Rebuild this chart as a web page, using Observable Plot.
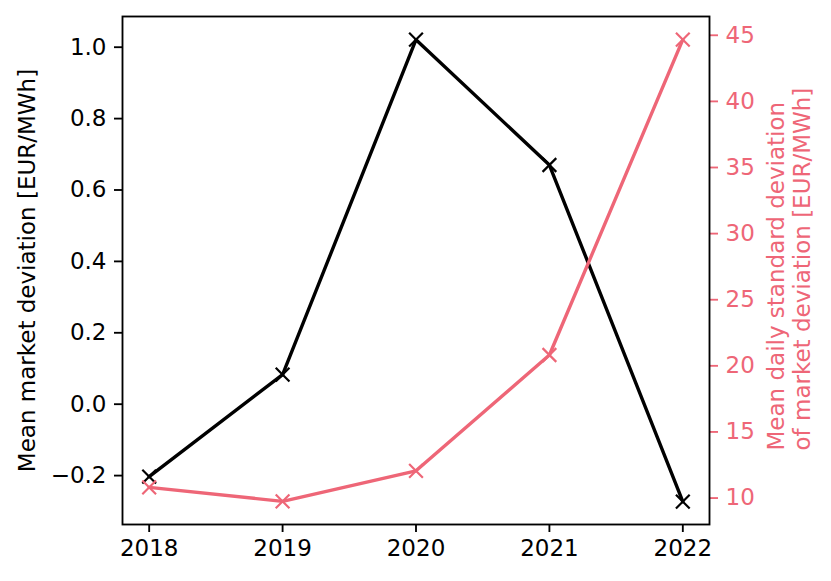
<!DOCTYPE html>
<html><head><meta charset="utf-8">
<script src="https://cdn.jsdelivr.net/npm/d3@7"></script>
<script src="https://cdn.jsdelivr.net/npm/@observablehq/plot@0.6"></script>
<style>body{margin:0;background:#fff} svg{display:block}</style>
</head><body><div id="chart"></div>
<script>
const years = [2018, 2019, 2020, 2021, 2022];
const meanDeviation = [-0.203, 0.083, 1.021, 0.670, -0.273];
const stdDeviation = [10.81, 9.75, 12.06, 20.82, 44.67];
const leftTicks = [-0.2, 0, 0.2, 0.4, 0.6, 0.8, 1.0];
const rightTicks = [10, 15, 20, 25, 30, 35, 40, 45];
const leftLabel = "Mean market deviation [EUR/MWh]";
const rightLabel = "Mean daily standard deviation\nof market deviation [EUR/MWh]";
const leftDomain = [-0.337, 1.086];
const rightDomain = [8.0, 46.42];
const red = "#ee6677";

const toLeft = d3.scaleLinear().domain(rightDomain).range(leftDomain);
const blackData = years.map((year, i) => ({year, value: meanDeviation[i]}));
const redData = years.map((year, i) => ({year, value: toLeft(stdDeviation[i])}));

const chart = Plot.plot({
  width: 831, height: 581,
  marginTop: 16, marginBottom: 57, marginLeft: 122, marginRight: 122,
  style: {fontFamily: "'DejaVu Sans', sans-serif", fontSize: "23px", background: "white", color: "black"},
  x: {domain: [2017.8, 2022.2]},
  y: {domain: leftDomain},
  marks: [
    Plot.axisX(years, {tickSize: 8, tickPadding: 7, strokeWidth: 1.85, tickFormat: d => String(d), label: null}),
    Plot.axisY(leftTicks, {anchor: "left", tickSize: 8, tickPadding: 8, strokeWidth: 1.85, tickFormat: d3.format(".1f"), label: null}),
    Plot.axisY(rightTicks.map(toLeft), {anchor: "right", tickSize: 8, tickPadding: 8, strokeWidth: 1.85, color: red,
      tickFormat: d => String(Math.round(toLeft.invert(d))), label: null}),
    Plot.line(blackData, {x: "year", y: "value", stroke: "black", strokeWidth: 3.4}),
    Plot.dot(blackData, {x: "year", y: "value", symbol: "times", r: 6.3, stroke: "black", strokeWidth: 2.2}),
    Plot.line(redData, {x: "year", y: "value", stroke: red, strokeWidth: 3.4}),
    Plot.dot(redData, {x: "year", y: "value", symbol: "times", r: 6.3, stroke: red, strokeWidth: 2.2}),
    Plot.frame({stroke: "black", strokeWidth: 1.85}),
    Plot.text([leftLabel], {text: d => d, frameAnchor: "left", textAnchor: "middle", rotate: -90, dx: -95, lineAnchor: "middle", fill: "black"}),
    Plot.text([rightLabel], {text: d => d, frameAnchor: "bottom-right", textAnchor: "start", rotate: -90, dx: 79, dy: -74, lineAnchor: "middle", lineHeight: 1.16, fill: red})
  ]
});
document.getElementById("chart").append(chart);
</script>
</body></html>
